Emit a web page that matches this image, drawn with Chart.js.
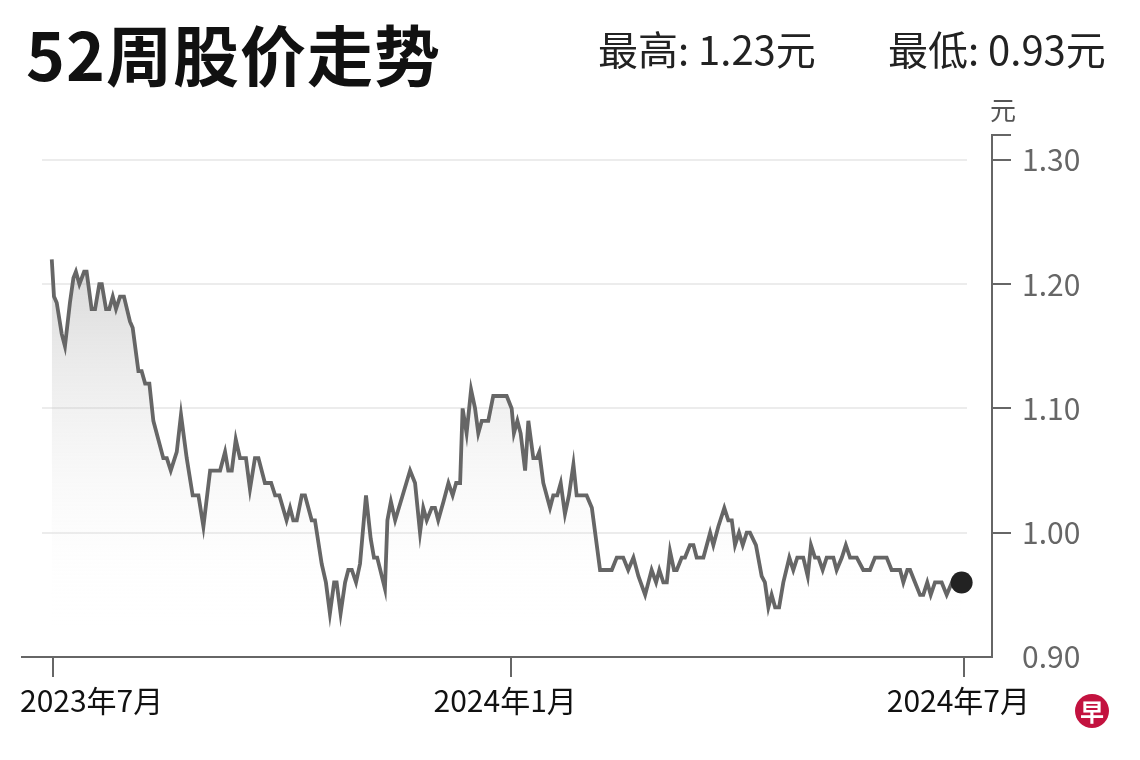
<!DOCTYPE html>
<html>
<head>
<meta charset="utf-8">
<script src="https://cdn.jsdelivr.net/npm/chart.js@4.4.1/dist/chart.umd.min.js"></script>
<style>
  html, body { margin:0; padding:0; background:#fff; }
  #wrap { position:relative; width:1140px; height:760px; overflow:hidden; font-family:"Noto Sans CJK SC","Noto Sans",sans-serif; }
  #title { position:absolute; left:26px; top:16px; font-size:66px; font-weight:700; color:#111; line-height:1.1; letter-spacing:1px; }
  .stat { position:absolute; top:24px; font-size:40px; color:#222; line-height:1.2; }
  #hi { left:598px; }
  #lo { left:888px; }
  #logo { position:absolute; left:1075px; top:694px; width:34px; height:34px; border-radius:50%; background:#c3123f;
          color:#fff; font-size:24px; font-weight:700; line-height:34px; text-align:center; }
  canvas { position:absolute; left:0; top:0; }
</style>
</head>
<body>
<div id="wrap">
  <canvas id="chart" width="1140" height="760"></canvas>
  <div id="title">52周股价走势</div>
  <div class="stat" id="hi">最高: 1.23元</div>
  <div class="stat" id="lo">最低: 0.93元</div>
  <div id="logo">早</div>
</div>
<script>
// days since 2023-07-01 and closing price (元)
const priceDays = [
  -0.5, 0.4, 1.5, 3.5, 4.8, 6.8, 8.2, 9.2, 10.6, 12.5, 13.5, 15.5, 16.9, 18.6, 19.6, 21.3, 22.6, 24.0, 25.3, 26.9,
  28.5, 30.9, 32.0, 34.3, 35.6, 37.0, 38.7, 40.3, 42.3, 44.3, 45.7, 47.3, 49.7, 51.4, 53.7, 56.1, 58.4, 60.4, 63.1, 67.1,
  69.1, 70.4, 71.8, 73.4, 75.1, 77.5, 79.1, 81.1, 82.5, 85.1, 87.6, 89.2, 90.9, 93.8, 95.2, 96.5, 97.9, 99.9, 101.2, 103.9,
  105.2, 107.9, 109.6, 111.2, 112.9, 113.9, 115.5, 117.3, 118.6, 120.0, 121.7, 123.3, 125.7, 127.6, 128.9, 130.2, 133.3, 134.3, 135.7, 137.4,
  140.4, 143.4, 145.4, 147.4, 148.7, 150.1, 152.1, 153.4, 154.7, 156.8, 158.8, 160.5, 161.9, 163.5, 164.5, 166.1, 167.9, 169.5, 170.8, 172.2,
  174.8, 176.8, 182.2, 184.2, 185.1, 186.5, 187.8, 189.6, 190.9, 192.9, 194.3, 195.3, 196.9, 199.6, 200.9, 202.5, 203.9, 205.6, 207.2, 209.0,
  210.3, 214.3, 216.4, 219.7, 224.4, 226.4, 229.0, 231.0, 233.1, 235.1, 237.8, 240.4, 242.2, 243.5, 245.1, 246.5, 247.8, 249.4, 250.5, 252.5,
  253.8, 255.8, 257.2, 258.5, 261.2, 263.9, 265.2, 267.2, 269.6, 271.2, 272.6, 273.9, 275.5, 277.0, 278.6, 279.9, 282.3, 284.6, 285.9, 287.3,
  288.6, 290.0, 291.6, 293.3, 295.7, 297.3, 298.9, 301.3, 303.1, 304.4, 306.0, 307.4, 309.1, 310.7, 313.4, 314.7, 316.8, 318.4, 320.1, 322.8,
  325.4, 328.1, 330.1, 334.8, 336.8, 340.2, 341.5, 343.1, 344.2, 346.2, 348.2, 349.5, 351.1, 352.5, 354.2, 356.9, 358.9, 361.0, 362.9, 364.9
];
const prices = [
  1.22, 1.19, 1.185, 1.16, 1.15, 1.185, 1.205, 1.21, 1.20, 1.21, 1.21, 1.18, 1.18, 1.20, 1.20, 1.18, 1.18, 1.19, 1.18, 1.19,
  1.19, 1.17, 1.165, 1.13, 1.13, 1.12, 1.12, 1.09, 1.075, 1.06, 1.06, 1.05, 1.065, 1.095, 1.06, 1.03, 1.03, 1.005, 1.05, 1.05,
  1.065, 1.05, 1.05, 1.075, 1.06, 1.06, 1.035, 1.06, 1.06, 1.04, 1.04, 1.03, 1.03, 1.01, 1.02, 1.01, 1.01, 1.03, 1.03, 1.01,
  1.01, 0.975, 0.96, 0.935, 0.96, 0.96, 0.935, 0.96, 0.97, 0.97, 0.96, 0.975, 1.03, 0.995, 0.98, 0.98, 0.955, 1.01, 1.025, 1.01,
  1.03, 1.05, 1.04, 1.00, 1.02, 1.01, 1.02, 1.02, 1.01, 1.025, 1.04, 1.03, 1.04, 1.04, 1.10, 1.08, 1.115, 1.10, 1.08, 1.09,
  1.09, 1.11, 1.11, 1.10, 1.08, 1.09, 1.08, 1.05, 1.09, 1.06, 1.06, 1.065, 1.04, 1.02, 1.03, 1.03, 1.04, 1.015, 1.03, 1.055,
  1.03, 1.03, 1.02, 0.97, 0.97, 0.98, 0.98, 0.97, 0.98, 0.965, 0.95, 0.97, 0.96, 0.97, 0.96, 0.96, 0.985, 0.97, 0.97, 0.98,
  0.98, 0.99, 0.99, 0.98, 0.98, 1.00, 0.99, 1.005, 1.02, 1.01, 1.01, 0.99, 1.00, 0.99, 1.00, 1.00, 0.99, 0.965, 0.96, 0.94,
  0.95, 0.94, 0.94, 0.96, 0.98, 0.97, 0.98, 0.98, 0.965, 0.99, 0.98, 0.98, 0.97, 0.98, 0.98, 0.97, 0.98, 0.99, 0.98, 0.98,
  0.97, 0.97, 0.98, 0.98, 0.97, 0.97, 0.96, 0.97, 0.97, 0.96, 0.95, 0.95, 0.96, 0.95, 0.96, 0.96, 0.95, 0.96, 0.955, 0.96
];
const monthTickDays = [0, 184, 366];
const monthTickLabels = ['2023年7月', '2024年1月', '2024年7月'];
const priceTicks = [0.90, 1.00, 1.10, 1.20, 1.30];
const yMin = 0.90, yMax = 1.32;

const FONT = '"Noto Sans CJK SC", "Noto Sans", sans-serif';
const lastIdx = prices.length - 1;

// light grid lines that stop short of the right axis, the 元 unit label,
// and month labels kept inside the picture at the left edge
const extras = {
  id: 'extras',
  beforeDatasetsDraw(chart){
    const {ctx, chartArea, scales:{y}} = chart;
    ctx.save();
    ctx.strokeStyle = '#ececec';
    ctx.lineWidth = 2;
    priceTicks.filter(v => v > yMin).forEach(v => {
      const py = Math.round(y.getPixelForValue(v));
      ctx.beginPath();
      ctx.moveTo(chartArea.left + 20, py);
      ctx.lineTo(chartArea.right - 25, py);
      ctx.stroke();
    });
    ctx.restore();
  },
  afterDraw(chart){
    const {ctx, chartArea, scales:{x}} = chart;
    ctx.save();
    ctx.fillStyle = '#555';
    ctx.font = '26px ' + FONT;
    ctx.textBaseline = 'alphabetic';
    ctx.fillText('元', chartArea.right - 2, chartArea.top - 15);

    ctx.fillStyle = '#111';
    ctx.font = '30px ' + FONT;
    ctx.textBaseline = 'middle';
    ctx.textAlign = 'left';
    monthTickDays.forEach((d, i) => {
      const label = monthTickLabels[i];
      const w = ctx.measureText(label).width;
      const left = Math.max(chartArea.left - 2, x.getPixelForValue(d) - w / 2 - 6);
      ctx.fillText(label, left, chartArea.bottom + 44);
    });
    ctx.restore();
  }
};

new Chart(document.getElementById('chart'), {
  type: 'line',
  data: {
    datasets: [{
      data: priceDays.map((d, i) => ({x: d, y: prices[i]})),
      borderColor: '#666',
      borderWidth: 3.8,
      tension: 0,
      fill: 'start',
      backgroundColor: (c) => {
        const a = c.chart.chartArea;
        if (!a) return 'rgba(0,0,0,0)';
        const g = c.chart.ctx.createLinearGradient(0, a.top + 120, 0, a.bottom - 30);
        g.addColorStop(0, 'rgba(150,150,150,0.38)');
        g.addColorStop(1, 'rgba(255,255,255,0)');
        return g;
      },
      pointRadius: (c) => c.dataIndex === lastIdx ? 11 : 0,
      pointHoverRadius: 0,
      pointBackgroundColor: '#222',
      pointBorderWidth: 0
    }]
  },
  options: {
    responsive: false,
    devicePixelRatio: 1,
    animation: false,
    layout: { padding: { left: 22, top: 135, right: 0, bottom: 0 } },
    plugins: { legend: { display: false }, tooltip: { enabled: false } },
    scales: {
      x: {
        type: 'linear',
        min: -12.45,
        max: 377.1,
        afterBuildTicks: (s) => { s.ticks = monthTickDays.map(v => ({value: v})); },
        afterFit: (s) => { s.height = 103; s.paddingLeft = 0; s.paddingRight = 0; },
        ticks: { display: false, autoSkip: false, maxRotation: 0 },
        grid: { drawOnChartArea: false, drawTicks: true, tickLength: 20, color: '#666', lineWidth: 2 },
        border: { display: true, color: '#666', width: 2 }
      },
      y: {
        position: 'right',
        min: yMin,
        max: yMax,
        afterBuildTicks: (s) => { s.ticks = priceTicks.concat([yMax]).map(v => ({value: v})); },
        afterFit: (s) => { s.width = 148; s.paddingTop = 0; s.paddingBottom = 0; },
        ticks: {
          autoSkip: false, padding: 11,
          color: '#666', font: { family: FONT, size: 30 },
          callback: (v) => v === yMax ? '' : v.toFixed(2)
        },
        grid: {
          drawOnChartArea: false, drawTicks: true, tickLength: 19, lineWidth: 2,
          color: (c) => (c.tick && c.tick.value === yMin) ? 'rgba(0,0,0,0)' : '#666'
        },
        border: { display: true, color: '#666', width: 2 }
      }
    }
  },
  plugins: [extras]
});
</script>
</body>
</html>
